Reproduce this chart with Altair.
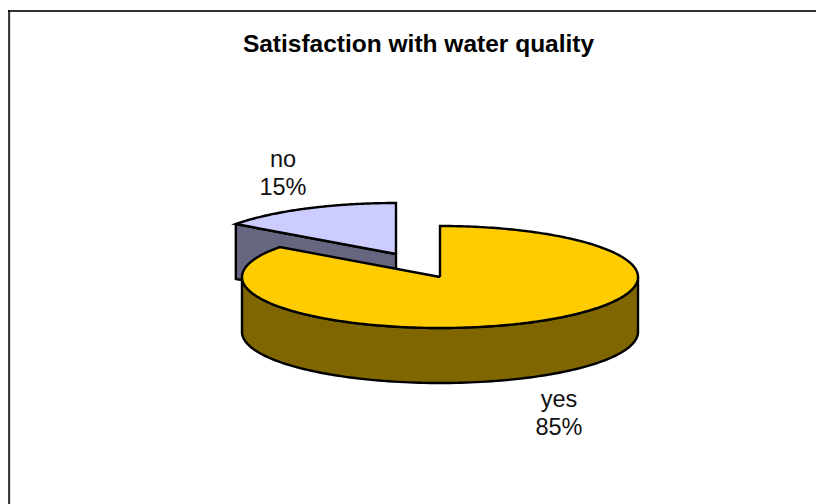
import math
import altair as alt
import pandas as pd

# Survey result
categories = ["yes", "no"]
shares = [85, 15]

# Pie projection, in canvas units
RX, RY, DEPTH = 198, 51, 55
CENTERS = {"yes": (440, 277), "no": (396, 254)}
COLORS = {"yes": ("#FFCC00", "#806600"), "no": ("#CCCCFF", "#666680")}
LABEL_POS = {"yes": (559, 399), "no": (283, 159)}
W, H = 816, 504

x_scale = alt.Scale(domain=[0, W], range=[0, W])
y_scale = alt.Scale(domain=[H, 0], range=[H, 0], reverse=False)


def rim(cx, cy, a0, a1, drop=0, n=120):
    """Points on the ellipse between two clockwise angles measured from 12 o'clock."""
    pts = []
    for i in range(n + 1):
        a = math.radians(a0 + (a1 - a0) * i / n)
        pts.append((cx + RX * math.sin(a), cy - RY * math.cos(a) + drop))
    return pts


def polygon(points, fill):
    frame = pd.DataFrame(points + points[:1], columns=["x", "y"])
    frame["i"] = range(len(frame))
    return alt.Chart(frame).mark_line(
        fill=fill, stroke="#000000", strokeWidth=2.4, strokeJoin="miter", clip=False
    ).encode(
        x=alt.X("x:Q", scale=x_scale, axis=None),
        y=alt.Y("y:Q", scale=y_scale, axis=None),
        order="i:Q",
    )


def frame_line(x, y, x2, y2, color, width):
    row = pd.DataFrame({"x": [x], "y": [y], "x2": [x2], "y2": [y2]})
    return alt.Chart(row).mark_rule(color=color, strokeWidth=width).encode(
        x=alt.X("x:Q", scale=x_scale, axis=None),
        x2="x2:Q",
        y=alt.Y("y:Q", scale=y_scale, axis=None),
        y2="y2:Q",
    )


# Sweep boundaries follow the shares, starting at 12 o'clock
sweep = {}
start = 0.0
for name, share in zip(categories, shares):
    sweep[name] = (start, start + share * 3.6)
    start += share * 3.6

layers = []

# Detached slice: cut face first, then its top
cx, cy = CENTERS["no"]
a0, a1 = sweep["no"]
edge = rim(cx, cy, a0, a0, n=1)[0]
layers.append(polygon(
    [edge, (cx, cy), (cx, cy + DEPTH), (edge[0], edge[1] + DEPTH)],
    COLORS["no"][1],
))
layers.append(polygon([(cx, cy)] + rim(cx, cy, a0, a1), COLORS["no"][0]))

# Main slice: outer wall along the front half, then its top
cx, cy = CENTERS["yes"]
a0, a1 = sweep["yes"]
layers.append(polygon(
    rim(cx, cy, 90, 270) + rim(cx, cy, 270, 90, drop=DEPTH),
    COLORS["yes"][1],
))
layers.append(polygon([(cx, cy)] + rim(cx, cy, a0, a1, n=300), COLORS["yes"][0]))

# Outer frame: only the top and left edges fall inside the canvas
border = [
    frame_line(8, 11, W, 11, "#333333", 2),
    frame_line(10, 12, 10, H, "#BBBBBB", 1),
    frame_line(9, 10, 9, H, "#000000", 1.5),
]

# Category and percentage labels
label_rows = []
for name, share in zip(categories, shares):
    lx, ly = LABEL_POS[name]
    label_rows.append({"x": lx, "y": ly + 1, "t": name})
    label_rows.append({"x": lx, "y": ly + 29, "t": f"{share}%"})
labels = alt.Chart(pd.DataFrame(label_rows)).mark_text(
    font="Liberation Sans", fontSize=23.5, color="#111111", align="center", baseline="middle"
).encode(
    x=alt.X("x:Q", scale=x_scale, axis=None),
    y=alt.Y("y:Q", scale=y_scale, axis=None),
    text="t:N",
)

title = alt.Chart(pd.DataFrame({"x": [418.5], "y": [45], "t": ["Satisfaction with water quality"]})).mark_text(
    font="Liberation Sans", fontSize=24.5, fontWeight="bold", color="#000000",
    align="center", baseline="middle"
).encode(
    x=alt.X("x:Q", scale=x_scale, axis=None),
    y=alt.Y("y:Q", scale=y_scale, axis=None),
    text="t:N",
)

chart = alt.layer(*border, *layers, labels, title).properties(
    width=W, height=H, padding=0, background="#FFFFFF",
    autosize=alt.AutoSizeParams(type="none"),
).configure_view(stroke=None)

chart.save("out.html", embed_options={"renderer": "svg", "actions": False})
